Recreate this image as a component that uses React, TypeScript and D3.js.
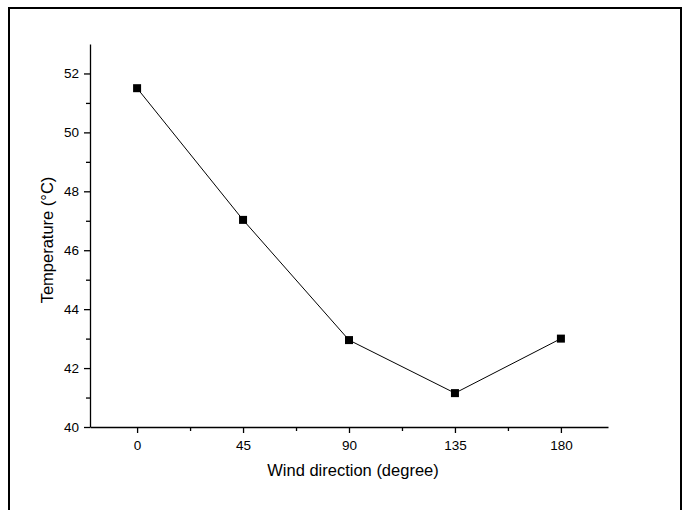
import React, { useEffect, useRef } from 'react';
import { select, scaleLinear, axisBottom, axisLeft, line, range } from 'd3';

const directions = [0, 45, 90, 135, 180];
const temperatures = [51.5, 47.03, 42.95, 41.15, 43.0];
const xTicks = [0, 45, 90, 135, 180];
const yTicks = [40, 42, 44, 46, 48, 50, 52];

const App = () => {
    const svgRef = useRef<SVGSVGElement>(null);

    useEffect(() => {
        const svg = select(svgRef.current);
        svg.selectAll('*').remove();

        const xScale = scaleLinear().domain([-20, 200]).range([90, 608]);
        const yScale = scaleLinear().domain([40, 53]).range([427, 44]);

        // outer frame
        svg.append('rect')
            .attr('x', 9).attr('y', 8)
            .attr('width', 672).attr('height', 520)
            .attr('fill', 'none').attr('stroke', '#000').attr('stroke-width', 2);

        const font = 'Arial, "Liberation Sans", sans-serif';

        // minor ticks
        const xMinor = range(22.5, 200, 45);
        const xm = svg.append('g').attr('transform', 'translate(0,427)')
            .call(axisBottom(xScale).tickValues(xMinor).tickSize(4).tickFormat(() => ''));
        xm.select('.domain').remove();
        const yMinor = range(41, 53, 2);
        const ym = svg.append('g').attr('transform', 'translate(90,0)')
            .call(axisLeft(yScale).tickValues(yMinor).tickSize(4).tickFormat(() => ''));
        ym.select('.domain').remove();

        // x axis
        const gx = svg.append('g').attr('transform', 'translate(0,427)')
            .call(axisBottom(xScale).tickValues(xTicks).tickSize(6).tickSizeOuter(0).tickPadding(7));
        gx.selectAll('text').attr('font-family', font).attr('font-size', 13.5).attr('fill', '#000');

        // y axis
        const gy = svg.append('g').attr('transform', 'translate(90,0)')
            .call(axisLeft(yScale).tickValues(yTicks).tickSize(6).tickSizeOuter(0).tickPadding(5));
        gy.selectAll('text').attr('font-family', font).attr('font-size', 13.5).attr('fill', '#000');

        svg.selectAll('.domain, .tick line').attr('stroke', '#000').attr('stroke-width', 1.3);

        // labels
        svg.append('text')
            .attr('x', 353).attr('y', 476)
            .attr('text-anchor', 'middle')
            .attr('font-family', font).attr('font-size', 16.5)
            .text('Wind direction (degree)');
        svg.append('text')
            .attr('transform', 'translate(53,240) rotate(-90)')
            .attr('text-anchor', 'middle')
            .attr('font-family', font).attr('font-size', 16.5)
            .text('Temperature (°C)');

        // line and markers
        const pts = directions.map((d, i) => [d, temperatures[i]] as [number, number]);
        const lineGen = line<[number, number]>()
            .x(d => xScale(d[0]))
            .y(d => yScale(d[1]));
        svg.append('path')
            .attr('d', lineGen(pts))
            .attr('fill', 'none').attr('stroke', '#000').attr('stroke-width', 1);
        svg.selectAll('.marker')
            .data(pts)
            .join('rect')
            .attr('class', 'marker')
            .attr('x', d => xScale(d[0]) - 4)
            .attr('y', d => yScale(d[1]) - 4)
            .attr('width', 8).attr('height', 8)
            .attr('fill', '#000');
    }, []);

    return (
        <svg ref={svgRef} width={688} height={510}
            style={{ position: 'absolute', left: 0, top: 0, background: '#fff' }} />
    );
};

export default App;
